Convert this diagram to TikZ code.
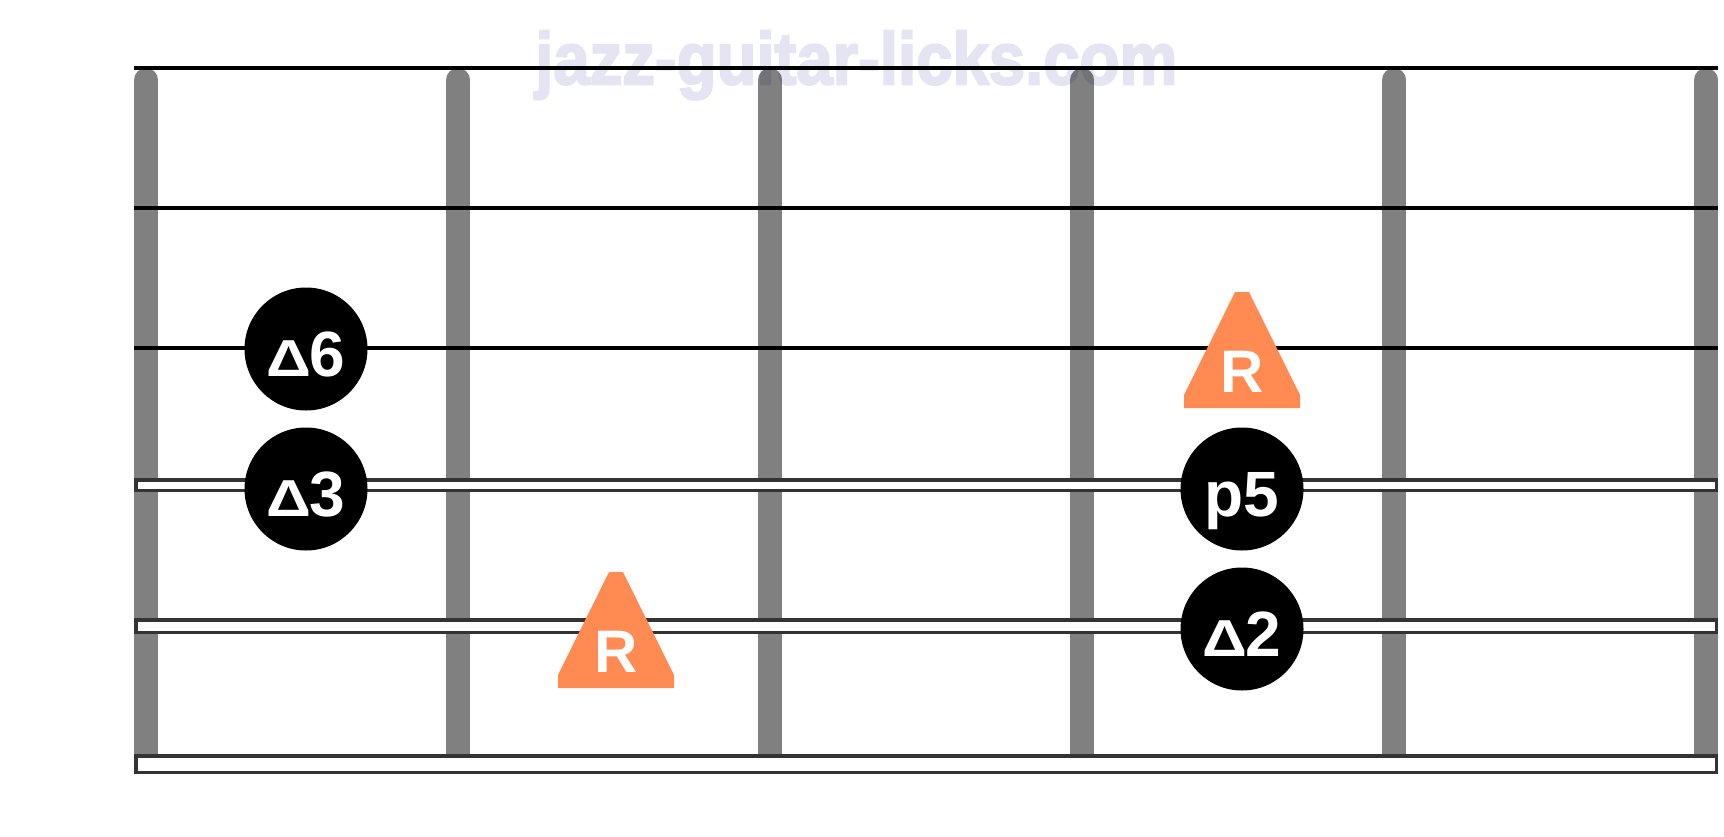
\documentclass[tikz,border=0pt]{standalone}
\usepackage{fontspec}
\setmainfont{Liberation Sans}
\newfontfamily\wmfont[BoldFeatures={FakeBold=3}]{Liberation Sans}
\usepackage{graphicx}
\definecolor{fretc}{RGB}{128,128,128}
\definecolor{strc}{RGB}{51,51,51}
\definecolor{rootc}{RGB}{255,139,82}
\definecolor{wmc}{RGB}{228,228,242}
\tikzset{
  fretbar/.style={fill=fretc},
  plainstr/.style={draw=black, line width=4pt},
  woundstr/.style={fill=white, draw=strc, line width=3.5pt},
  notedot/.style={circle, fill=black, minimum size=123pt, inner sep=0pt},
  notelbl/.style={text=white, inner sep=0pt, anchor=base, font=\bfseries},
  rootlbl/.style={text=white, inner sep=0pt, anchor=base, font=\bfseries\fontsize{60}{60}\selectfont},
  rootmark/.pic={
    \fill[rootc] (-7,-116) -- (7,-116) -- (58,-13) -- (58,0) -- (-58,0) -- (-58,-13) -- cycle;
    \node[rootlbl] (-R) at (0,-16) {R};
  }
}
\newcommand{\dlt}{{\fontsize{52}{52}\selectfont\scalebox{1.2}[1]{Δ}}\kern-2pt}
\newcommand{\dgt}[1]{{\fontsize{64}{64}\selectfont #1}}
\begin{document}
\begin{tikzpicture}[x=1pt, y=-1pt]
\useasboundingbox (0,0) rectangle (1724,836);
% frets
\foreach \fx [count=\i] in {146,458,770,1082,1394,1706}{
  \fill[fretbar] (\fx-12,80) rectangle (\fx+12,774);
  \fill[fretbar] (\fx,80) circle[radius=12];
}
% plain strings
\draw[plainstr] (134,68) -- (1718,68);
\draw[plainstr] (134,208) -- (1718,208);
\draw[plainstr] (134,348) -- (1718,348);
% wound strings
\filldraw[woundstr] (135.75,479.75) rectangle (1716.25,490.25);
\filldraw[woundstr] (135.75,619.75) rectangle (1716.25,632.25);
\filldraw[woundstr] (135.75,755.75) rectangle (1716.25,772.25);
% watermark
\begin{scope}[blend mode=multiply]
\begin{scope}[transparency group]
\node[text=wmc, anchor=south west, inner sep=0pt] (wm) at (535,100)
  {\resizebox*{642pt}{69pt}{\wmfont\bfseries jazz-guitar-licks.com}};
\end{scope}
\end{scope}
% notes
\node[notedot] (n6) at (306,349) {};
\node[notelbl] (n6t) at ([yshift=-27pt]n6.center) {\dlt\dgt{6}};
\node[notedot] (n3) at (306,489) {};
\node[notelbl] (n3t) at ([yshift=-27pt]n3.center) {\dlt\dgt{3}};
\node[notedot] (n5) at (1242,489) {};
\node[notelbl] (n5t) at ([yshift=-27pt]n5.center) {\dgt{p5}};
\node[notedot] (n2) at (1242,629) {};
\node[notelbl] (n2t) at ([yshift=-27pt]n2.center) {\dlt\dgt{2}};
% roots
\pic (r1) at (1242,408) {rootmark};
\pic (r2) at (616,688) {rootmark};
\end{tikzpicture}
\end{document}
